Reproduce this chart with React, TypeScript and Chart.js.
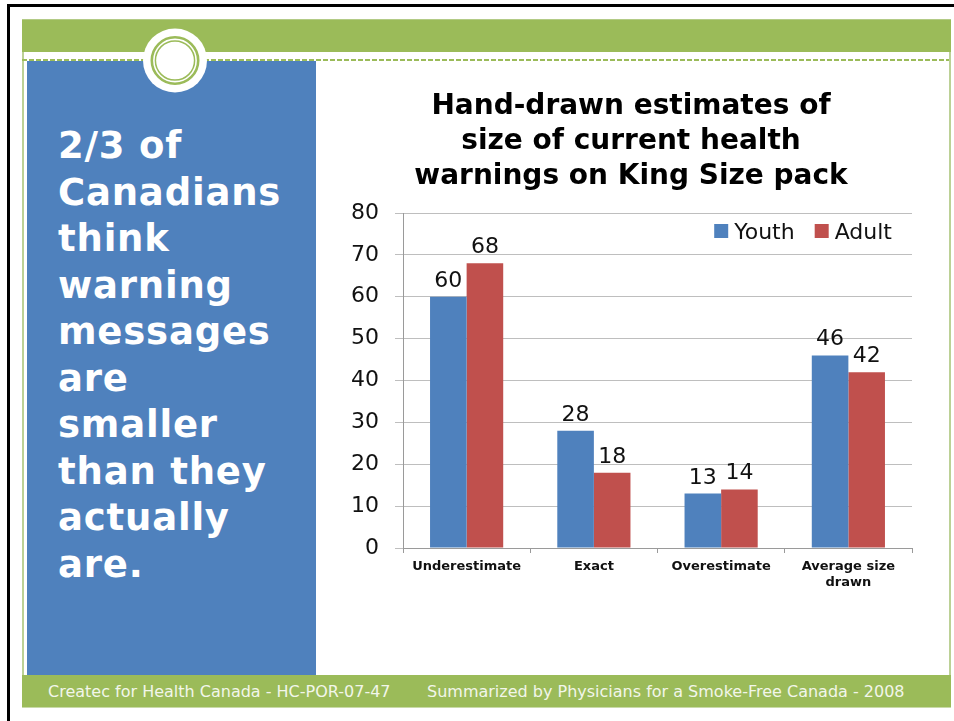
import React, { useEffect, useRef } from "react";
import { Chart, registerables } from "chart.js";

Chart.register(...registerables);

const categories: (string | string[])[] = ["Underestimate", "Exact", "Overestimate", ["Average size", "drawn"]];
const youthValues = [60, 28, 13, 46];
const adultValues = [68, 18, 14, 42];
const seriesNames = ["Youth", "Adult"];
const seriesColors = ["#4F81BD", "#C0504D"];
const titleLines = ["Hand-drawn estimates of", "size of current health", "warnings on King Size pack"];
const yMin = 0;
const yMax = 80;
const yStep = 10;
const sideLines = ["2/3 of", "Canadians", "think", "warning", "messages", "are", "smaller", "than they", "actually", "are."];
const footerLeft = "Createc for Health Canada - HC-POR-07-47";
const footerRight = "Summarized by Physicians for a Smoke-Free Canada - 2008";

const FONT = "'DejaVu Sans', Verdana, sans-serif";
const GREEN = "#9BBB59";
const PALE = "#BCD196";

const valueLabels = {
  id: "valueLabels",
  afterDatasetsDraw(chart: any) {
    const ctx = chart.ctx;
    ctx.save();
    ctx.font = `22px ${FONT}`;
    ctx.fillStyle = "#111";
    ctx.textAlign = "center";
    ctx.textBaseline = "alphabetic";
    chart.data.datasets.forEach((ds: any, i: number) => {
      const meta = chart.getDatasetMeta(i);
      meta.data.forEach((bar: any, j: number) => {
        ctx.fillText(String(ds.data[j]), bar.x, bar.y - 10);
      });
    });
    ctx.restore();
  },
};

const insideLegend = {
  id: "insideLegend",
  afterDraw(chart: any) {
    const ctx = chart.ctx;
    const area = chart.chartArea;
    ctx.save();
    ctx.font = `22px ${FONT}`;
    ctx.textBaseline = "alphabetic";
    ctx.textAlign = "left";
    const baseline = area.top + 26;
    const box = 14;
    let right = area.right - 20;
    const ds = chart.data.datasets;
    for (let i = ds.length - 1; i >= 0; i--) {
      const label = ds[i].label;
      const w = ctx.measureText(label).width;
      const textX = right - w;
      const boxX = textX - 6 - box;
      ctx.fillStyle = ds[i].backgroundColor;
      ctx.fillRect(boxX, baseline - box - 1, box, box);
      ctx.fillStyle = "#111";
      ctx.fillText(label, textX, baseline);
      right = boxX - 20;
    }
    ctx.restore();
  },
};

function BarChart() {
  const ref = useRef<HTMLCanvasElement | null>(null);
  useEffect(() => {
    if (!ref.current) return;
    const chart = new Chart(ref.current, {
      type: "bar",
      data: {
        labels: categories as any,
        datasets: [
          { label: seriesNames[0], data: youthValues, backgroundColor: seriesColors[0], borderWidth: 0 },
          { label: seriesNames[1], data: adultValues, backgroundColor: seriesColors[1], borderWidth: 0 },
        ],
      },
      options: {
        animation: false,
        responsive: false,
        maintainAspectRatio: false,
        devicePixelRatio: 1,
        layout: { padding: { left: 19, right: 19, top: 0, bottom: 0 } },
        datasets: { bar: { categoryPercentage: 0.575, barPercentage: 1 } },
        plugins: {
          legend: { display: false },
          tooltip: { enabled: false },
          title: {
            display: true,
            text: titleLines,
            color: "#000",
            font: { family: FONT, size: 28, weight: "bold", lineHeight: 1.25 },
            padding: { top: 27, bottom: 19 },
          },
        },
        scales: {
          x: {
            grid: { display: true, drawOnChartArea: false, drawTicks: true, tickLength: 5, color: "#9A9A9A", offset: true },
            border: { display: true, color: "#9A9A9A", width: 1 },
            ticks: { font: { family: FONT, size: 13, weight: "bold" }, color: "#111", padding: 6, maxRotation: 0, autoSkip: false },
            afterFit: (s: any) => { s.height = 74; },
          },
          y: {
            min: yMin,
            max: yMax,
            ticks: { stepSize: yStep, font: { family: FONT, size: 22 }, color: "#111", padding: 16 },
            grid: { color: "#BEBEBE", tickLength: 8, drawTicks: true },
            border: { color: "#9A9A9A", width: 1 },
            afterFit: (s: any) => { s.width = 53; },
          },
        },
      } as any,
      plugins: [valueLabels, insideLegend],
    });
    return () => chart.destroy();
  }, []);
  return (
    <canvas
      ref={ref}
      width={600}
      height={560}
      style={{ position: "absolute", left: 331, top: 62, width: 600, height: 560 }}
    />
  );
}

export default function App() {
  const abs = (s: React.CSSProperties): React.CSSProperties => ({ position: "absolute", ...s });
  return (
    <div style={abs({ left: 0, top: 0, width: 954, height: 721, background: "#fff", overflow: "hidden", fontFamily: FONT })}>
      {/* black outer frame */}
      <div style={abs({ left: 7, top: 4, width: 960, height: 3, background: "#000" })} />
      <div style={abs({ left: 7, top: 4, width: 3, height: 730, background: "#000" })} />
      {/* slide frame lines */}
      <div style={abs({ left: 22, top: 19, width: 2, height: 689, background: PALE })} />
      <div style={abs({ left: 949, top: 19, width: 2, height: 689, background: PALE })} />
      {/* top green bar */}
      <div style={abs({ left: 22, top: 19, width: 929, height: 33, background: GREEN, borderTop: "1px solid #B3CB86", boxSizing: "border-box" })} />
      {/* dashed line */}
      <div style={abs({ left: 22, top: 59, width: 927, height: 2, background: `repeating-linear-gradient(to right, ${GREEN} 0 5px, transparent 5px 7px)` })} />
      {/* blue panel */}
      <div style={abs({ left: 27, top: 61, width: 289, height: 614, background: "#4F81BD" })} />
      {/* circle decoration */}
      <svg style={abs({ left: 143, top: 28, width: 64, height: 65 })} width={64} height={65} viewBox="0 0 64 65">
        <circle cx={32} cy={32.5} r={32} fill="#fff" />
        <circle cx={32} cy={32.5} r={23.2} fill="none" stroke={GREEN} strokeWidth={2.6} />
        <circle cx={32} cy={32.5} r={19.6} fill="none" stroke={GREEN} strokeWidth={1.5} />
      </svg>
      {/* side text */}
      <div style={abs({ left: 58, top: 123, color: "#fff", fontWeight: "bold", fontSize: 37, lineHeight: "46.5px", letterSpacing: "0.8px", whiteSpace: "nowrap" })}>
        {sideLines.map((l, i) => (
          <div key={i}>{l}</div>
        ))}
      </div>
      {/* chart */}
      <BarChart />
      {/* footer */}
      <div style={abs({ left: 22, top: 675, width: 929, height: 32, background: GREEN })} />
      <div style={abs({ left: 22, top: 707, width: 929, height: 1, background: "#C9DAA8" })} />
      <div style={abs({ left: 48, top: 676, height: 32, lineHeight: "32px", fontSize: 16, color: "#F2F6EA", whiteSpace: "pre" })}>{footerLeft}</div>
      <div style={abs({ left: 427, top: 676, height: 32, lineHeight: "32px", fontSize: 16, color: "#F2F6EA", whiteSpace: "pre" })}>{footerRight}</div>
    </div>
  );
}
